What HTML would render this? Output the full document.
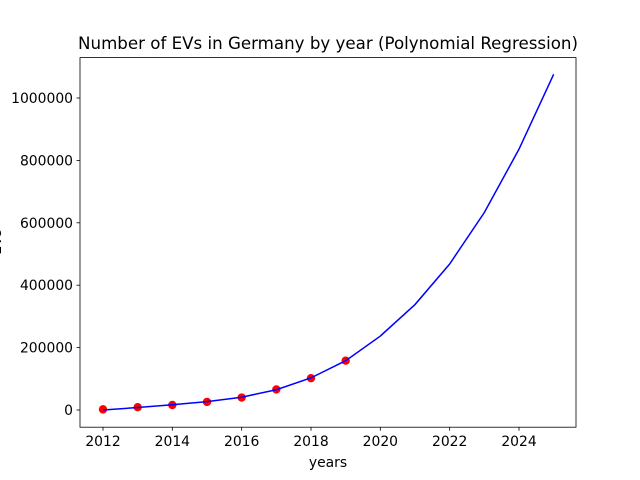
<!DOCTYPE html>
<html><head><meta charset="utf-8"><style>body{margin:0;background:#fff}svg{display:block;font-family:"DejaVu Sans","Liberation Sans",sans-serif}</style></head>
<body>
<svg id="c" width="640" height="480"></svg>
<script>
const years=[2012,2013,2014,2015,2016,2017,2018,2019];
const evs=[2000,9000,16000,26000,40000,66000,102000,158000];
const fitYears=[2012,2013,2014,2015,2016,2017,2018,2019,2020,2021,2022,2023,2024,2025];
const fitVals=[0,8000,17000,27000,41000,65000,103000,158000,237000,338000,468000,633000,836000,1076000];
const xTicks=[2012,2014,2016,2018,2020,2022,2024];
const yTicks=[0,200000,400000,600000,800000,1000000];
const NS="http://www.w3.org/2000/svg";
const svg=document.getElementById('c');
const L=80,R=576,T=57.6,B=427.2;
const sx=v=>103+(v-2012)*(519-103)/12;
const sy=v=>410-v*312/1000000;
function mk(t,a,p){const e=document.createElementNS(NS,t);for(const k in a)e.setAttribute(k,a[k]);(p||svg).appendChild(e);return e;}
let t=mk('text',{x:328,y:49,'text-anchor':'middle','font-size':'16.67',fill:'#000'});t.textContent='Number of EVs in Germany by year (Polynomial Regression)';


t=mk('text',{x:328,y:467,'text-anchor':'middle','font-size':'13.9',fill:'#000'});t.textContent='years';


t=mk('text',{x:0,y:0,'text-anchor':'middle','font-size':'13.9',fill:'#000',transform:'translate(1,242) rotate(-90)'});t.textContent='EVs';


xTicks.forEach(v=>{const x=sx(v);
 const l=mk('line',{x1:x,x2:x,y1:B,y2:B+3.5,stroke:'#000','stroke-width':0.8});
 
 
 const s=mk('text',{x:x,y:B+19,'text-anchor':'middle','font-size':'13.9'});s.textContent=v;
 
 });
yTicks.forEach(v=>{const y=sy(v);
 const l=mk('line',{x1:L-3.5,x2:L,y1:y,y2:y,stroke:'#000','stroke-width':0.8});
 
 
 const s=mk('text',{x:L-7,y:y+5,'text-anchor':'end','font-size':'13.9'});s.textContent=v;
 
 });
const pts=fitYears.map((y,i)=>sx(y)+','+sy(fitVals[i])).join(' ');
years.forEach((y,i)=>{const c=mk('circle',{cx:sx(y),cy:sy(evs[i]),r:4.2,fill:'#ff0000'});
 
 });
const pl=mk('polyline',{points:pts,fill:'none',stroke:'#0000ff','stroke-width':1.5});


const f=mk('rect',{x:L,y:T,width:R-L,height:B-T,fill:'none',stroke:'#000','stroke-width':0.8});


</script>
</body></html>
